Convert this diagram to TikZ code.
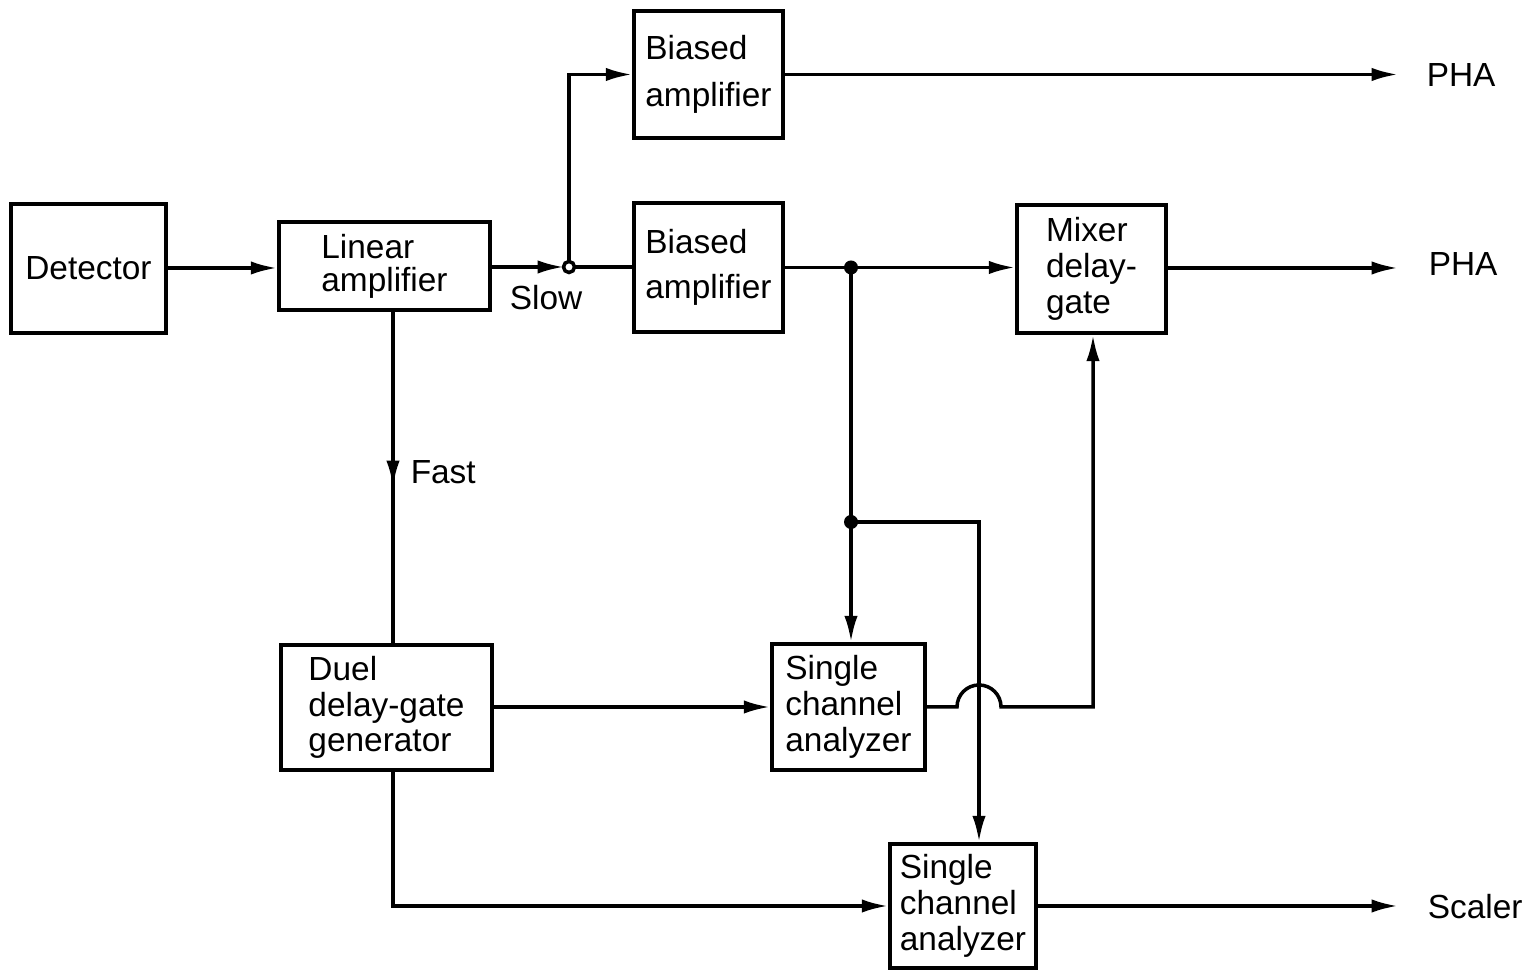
\documentclass[tikz,border=0pt]{standalone}
\usepackage{fontspec}
\setmainfont{Liberation Sans}
\usetikzlibrary{arrows.meta}
\begin{document}
\begin{tikzpicture}[x=0.01cm,y=-0.01cm, line width=1pt,
  box/.style={draw, line width=1pt, inner sep=0pt, align=left, font=\fontsize{9.5}{10.2}\selectfont},
  arr/.style={-{Latex[length=7.5pt,width=3.8pt]}},
  lbl/.style={font=\fontsize{9.5}{11}\selectfont, inner sep=0pt}]
\useasboundingbox (0,0) rectangle (1533,971);
% boxes
\node[box, minimum width=1.55cm, minimum height=1.29cm] (det) at (88.5,268.5) {Detector};
\node[box, minimum width=2.11cm, minimum height=0.88cm, font=\fontsize{9.5}{9.4}\selectfont] (lin) at (384.5,266) {Linear\\amplifier};
\node[box, minimum width=1.49cm, minimum height=1.27cm, font=\fontsize{9.5}{13.2}\selectfont] (bt) at (708.5,74.5) {Biased\\amplifier};
\node[box, minimum width=1.49cm, minimum height=1.29cm, font=\fontsize{9.5}{13}\selectfont] (bm) at (708.5,267.5) {Biased\\amplifier};
\node[box, minimum width=1.49cm, minimum height=1.28cm] (mix) at (1091.5,269) {Mixer\\delay-\\gate};
\node[box, minimum width=2.11cm, minimum height=1.25cm] (duel) at (386.5,707.5) {Duel\\delay-gate\\generator};
\node[box, minimum width=1.53cm, minimum height=1.26cm] (sca1) at (848.5,707) {Single\\channel\\analyzer};
\node[box, minimum width=1.46cm, minimum height=1.24cm] (sca2) at (963,906) {Single\\channel\\analyzer};
% labels
\node[lbl] (slow) at (546,298) {Slow};
\node[lbl, anchor=west] (fast) at (409,472) {Fast};
\node[lbl, anchor=west] (pha1) at (1425,75) {PHA};
\node[lbl, anchor=west] (pha2) at (1427,264) {PHA};
\node[lbl, anchor=west] (scaler) at (1426,907) {Scaler};
% coordinates
\coordinate (J) at (569,267);
\coordinate (Jw) at (564,267);
\coordinate (D1) at (851,267.5);
\coordinate (D2) at (851,522);
\coordinate (F) at (393,487);
\coordinate (Fb) at (393,475);
\coordinate (o1) at (1398,74.5);
\coordinate (o2) at (1398,268);
\coordinate (o3) at (1398,906);
\coordinate (h1) at (957,707);
\coordinate (h2) at (1001,707);
% connectors
\draw[arr] (det.east |- 0,268) -- (lin.west |- 0,268);
\draw[arr] (lin.east |- J) -- (Jw);
\draw (J) -- (J -| bm.west);
\draw[arr] (J) |- (bt.west);
\draw[arr] (bt.east) -- (o1);
\draw[arr] (bm.east) -- (bm.east -| mix.west);
\draw[arr] (mix.east |- o2) -- (o2);
\draw[arr] (D1) -- (D1 |- sca1.north);
\draw[arr] (D2) -| (sca2.north -| 979,0);
\draw[arr] (lin.south -| F) -- (F);
\draw (Fb) -- (duel.north -| F);
\draw[arr] (duel.east |- sca1.west) -- (sca1.west);
\draw[arr] (sca1.east) -- (h1) arc[start angle=180, end angle=0, radius=0.22cm] -- (h2 -| 1093,0) -- (mix.south -| 1093,0);
\draw[arr] (duel.south -| F) |- (sca2.west);
\draw[arr] (sca2.east) -- (o3);
% junctions
\fill (D1) circle[radius=0.07cm];
\fill (D2) circle[radius=0.07cm];
\node[circle, draw, fill=white, line width=1pt, minimum size=0.11cm, inner sep=0pt] (jc) at (J) {};
\end{tikzpicture}
\end{document}
